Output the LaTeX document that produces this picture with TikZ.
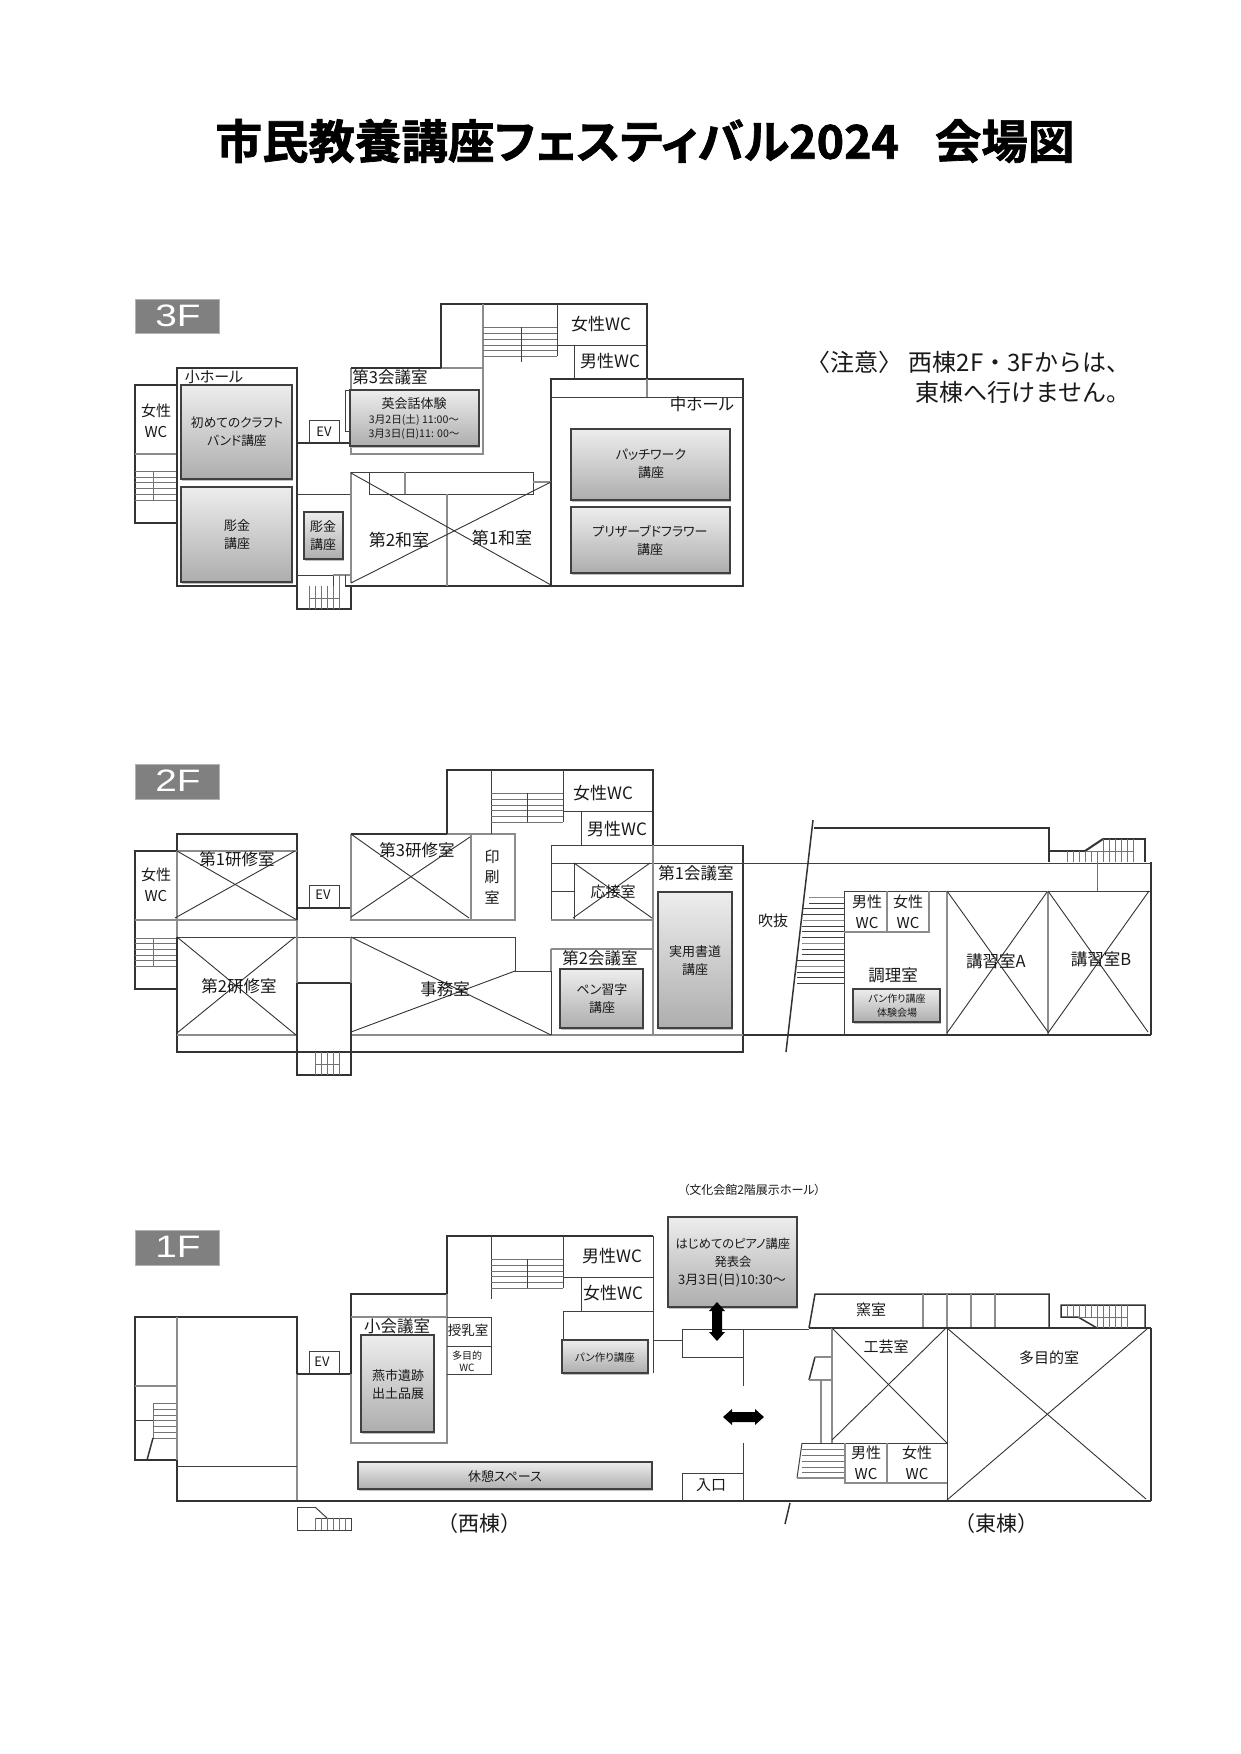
\documentclass[tikz,border=0pt]{standalone}
\usepackage{fontspec}
\setmainfont[RawFeature=+palt]{Noto Sans CJK JP}
\newfontfamily\ttlfont[RawFeature=+palt,FakeBold=1.5]{Noto Sans CJK JP Bold}
\newfontfamily\plainjp{Noto Sans CJK JP}
\newfontfamily\floorfont[FakeStretch=1.25]{Liberation Sans}
\newcommand\fs[2]{\fontsize{#1}{#2}\selectfont}
\tikzset{
  wall/.style={draw=black!80,line width=1.5},
  thin/.style={draw=black!75,line width=1},
  gl/.style={draw=black!45,line width=1.3},
  crossline/.style={draw=black!80,line width=.9},
  stairg/.style={draw=black!55,line width=1},
  floorbox/.style={fill=black!50,draw=black!30,line width=.6},
  floorlab/.style={text=white,font=\floorfont\fs{31}{31}},
  tx/.style={inner sep=0pt,outer sep=0pt,align=center,text=black!90},
  t10/.style={tx,font=\fs{10}{14}},
  t11/.style={tx,font=\fs{12.7}{18}},
  t12/.style={tx,font=\fs{13}{18}},
  t13/.style={tx,font=\fs{13}{18}},
  t15/.style={tx,font=\fs{15}{21}},
  t16/.style={tx,font=\fs{16.5}{21}},
  t17/.style={tx,font=\fs{17}{21}},
  t21/.style={tx,font=\plainjp\fs{21}{21}},
  tnote/.style={tx,font=\plainjp\fs{24}{24}},
  gboxs/.style={draw=black!75,line width=1.1,shade,top color=black!7,bottom color=black!32,shading angle=0},
  gshadow/.style={fill=black!25,draw=none},
}
\newcommand\gbox[4]{%
  \fill[gshadow] (#1+1,#2+1.5) rectangle (#3+1,#4+1.5);
  \path[gboxs] (#1,#2) rectangle (#3,#4);
}
\begin{document}
\begin{tikzpicture}[x=1pt,y=-1pt]
\useasboundingbox (0,0) rectangle (1240,1754);
\fill[white] (0,0) rectangle (1240,1754);

% title
\node[tx,anchor=center,text=black] (title) at (645,141) {\ttlfont\fs{46.5}{50}市民教養講座フェスティバル2024\hspace{36pt}会場図};

% note
\node[tnote,anchor=west] (note1) at (806,362) {〈注意〉\hspace{7pt}西棟2F・3Fからは、};
\node[tnote,anchor=west] (note2) at (915,392) {東棟へ行けません。};

% ------------------------- 3F -------------------------
\path[floorbox] (135,299) rectangle (219,333);
\node[floorlab] (f3) at (178,316) {3F};
% left block
\draw[wall] (177,385)--(135,385)--(135,523)--(177,523);
\draw[gl] (135,454)--(177,454);
\foreach \y in {471,477,482,488,494,500} \draw[stairg] (135,\y)--(177,\y);
\draw[stairg] (153,471)--(153,500);
% small hall
\draw[wall] (177,368) rectangle (297,586);
% EV + corridor
\draw[wall] (297,443)--(350,443);
\draw[thin] (309,443)--(309,420)--(339,420)--(339,443);
\draw[thin] (297,494)--(351,494);
% lower stairs
\draw[thin] (297,575)--(333,575)--(333,586);
\draw[wall] (297,586)--(297,609)--(351,609)--(351,586);
\draw[gl] (333,575)--(351,575);
\draw[thin] (345,586)--(345,575);
\foreach \x in {309,315,321,327,333,339} \draw[stairg] (\x,586)--(\x,609);
\draw[stairg] (339,575)--(339,586);
\draw[stairg] (309,598)--(339,598);
\draw[wall] (345,586)--(743,586);
% conference 3
\draw[gl] (351,368)--(351,454)--(483,454)--(483,368);
\draw[wall] (351,368)--(441,368);
\draw[gl] (441,368)--(483,368);
\draw[wall] (441,368)--(441,304)--(647,304)--(647,379);
\draw[gl] (483,304)--(483,368);
\draw[thin] (345,390) rectangle (351,431);
% upper stairs
\foreach \y in {327,333,339,345,350,356} \draw[stairg] (483,\y)--(557,\y);
\draw[thin] (521,327)--(521,362);
\draw[thin] (557,304)--(557,356);
\draw[thin] (557,345)--(647,345);
\draw[thin] (574,345)--(574,379);
% middle hall
\draw[wall] (551,379) rectangle (743,586);
\draw[thin] (551,397)--(743,397);
\draw[gl] (647,379)--(647,397);
% tatami rooms
\draw[gl] (351,472)--(351,583);
\draw[thin] (351,472)--(533,472)--(533,494)--(369,494)--(369,472);
\draw[gl] (405,472)--(405,494);
\draw[gl] (533,482)--(551,482);
\draw[gl] (447,494)--(447,586);
\draw[crossline] (351,473)--(551,585);
\draw[crossline] (351,583)--(551,482);
% boxes
\gbox{181}{385}{292}{479}
\gbox{181}{487}{292}{582}
\gbox{304}{512}{343}{559}
\gbox{350}{390}{479}{446}
\gbox{571}{429}{730}{500}
\gbox{571}{507}{730}{573}
% labels
\node[t15] (a1) at (214,377) {小ホール};
\node[t15] (a2) at (156,421) {女性\\WC};
\node[t11] (a3) at (237,432) {初めてのクラフト\\バンド講座};
\node[t12] (a4) at (237,535) {彫金\\講座};
\node[t12] (a5) at (323,536) {彫金\\講座};
\node[t13] (a6) at (324,432) {EV};
\node[t16] (a7) at (390,377) {第3会議室};
\node[tx,font=\fs{13}{13}] (a8) at (414,404) {英会話体験};
\node[tx,font=\fs{10.6}{14}] (a9) at (414,427) {3月2日(土) 11:00〜\\3月3日(日)11: 00〜};
\node[t17] (a10) at (399,540) {第2和室};
\node[t17] (a11) at (502,538) {第1和室};
\node[t17] (a12) at (601,324) {女性WC};
\node[t17] (a13) at (610,361) {男性WC};
\node[t16] (a14) at (702,404) {中ホール};
\node[t12] (a15) at (651,464) {パッチワーク\\講座};
\node[t12] (a16) at (650,540) {プリザーブドフラワー\\講座};

% ------------------------- 2F -------------------------
\path[floorbox] (135,764) rectangle (219,799);
\node[floorlab] (f2) at (178,781) {2F};
\draw[wall] (177,851)--(135,851)--(135,989)--(177,989);
\foreach \y in {938,943,949,955,960,966} \draw[stairg] (135,\y)--(177,\y);
\draw[stairg] (153,938)--(153,966);
\draw[gl] (135,920)--(297,920);
\draw[thin] (177,937)--(351,937);
\draw[wall] (177,851)--(177,834)--(297,834)--(297,920);
\draw[gl] (177,851)--(297,851);
\draw[gl] (177,851)--(177,937);
\draw[wall] (177,937)--(177,1052)--(743,1052)--(743,845);
\draw[gl] (177,1035)--(297,1035);
\draw[gl] (351,1035)--(1151,1035);
\draw[wall] (297,983)--(297,1075)--(351,1075)--(351,983)--cycle;
\draw[gl] (297,920)--(297,983);
\draw[gl] (351,937)--(351,983);
\draw[crossline] (177,851)--(297,920);
\draw[crossline] (175,918)--(295,851);
\draw[crossline] (177,937)--(296,1035);
\draw[crossline] (295,937)--(177,1033);
\draw[wall] (297,908)--(351,908);
\draw[thin] (309,908)--(309,885)--(339,885)--(339,908);
\foreach \x in {315,321,327,333,339} \draw[stairg] (\x,1052)--(\x,1075);
\draw[stairg] (315,1064)--(339,1064);
% research 3 / print
\draw[gl] (351,834)--(351,920)--(515,920)--(515,834)--(447,834);
\draw[wall] (351,834)--(447,834);
\draw[gl] (471,834)--(471,920);
\draw[crossline] (351,834)--(469,918);
\draw[crossline] (470,837)--(351,917);
% upper
\draw[wall] (447,834)--(447,770)--(653,770)--(653,845);
\draw[thin] (491,770)--(491,834);
\foreach \y in {793,799,805,810,816,822} \draw[stairg] (491,\y)--(563,\y);
\draw[thin] (527,793)--(527,822);
\draw[thin] (563,770)--(563,822);
\draw[thin] (563,811)--(653,811);
\draw[thin] (581,811)--(581,845);
\draw[thin] (551,845)--(743,845);
\draw[thin] (551,845)--(551,920);
\draw[thin] (551,863)--(1151,863);
\draw[thin] (574,863)--(574,920);
\draw[thin] (551,891)--(574,891);
\draw[gl] (551,920)--(653,920);
\draw[gl] (653,845)--(653,1035);
\draw[crossline] (574,863)--(652,918);
\draw[crossline] (650,863)--(573,918);
% office
\draw[thin] (351,937)--(515,937)--(515,971)--(551,971);
\draw[gl] (551,949)--(653,949);
\draw[thin] (551,971)--(551,1035);
\draw[gl] (551,949)--(551,971);
\draw[crossline] (351,937)--(551,1035);
\draw[crossline] (351,1032)--(515,971);
% east
\draw[wall] (813,820)--(786,1052);
\draw[wall] (814,828)--(1049,828)--(1049,862);
\draw[wall] (1151,862)--(1151,1035);
\draw[wall] (1049,851)--(1085,851);
\draw[draw=black!80,line width=2] (1085,851)--(1103,839);
\draw[wall] (1103,839)--(1145,839)--(1145,862);
\draw[stairg] (1085,851)--(1133,851);
\foreach \x in {1067,1073,1079,1085,1091,1097} \draw[stairg] (\x,851)--(\x,862);
\foreach \x in {1103,1109,1115,1121,1127,1133} \draw[stairg] (\x,839)--(\x,862);
\draw[stairg] (1097,862)--(1097,891);
\draw[thin] (844,891)--(1151,891);
\draw[thin] (844,891)--(844,1035);
\draw[gl] (929,891)--(929,932)--(844,932);
\draw[gl] (887,891)--(887,932);
\draw[gl] (947,891)--(947,1035);
\draw[gl] (1048,891)--(1048,1035);
\draw[wall] (743,1035)--(1151,1035);
\draw[crossline] (947,891)--(1048,1032);
\draw[crossline] (1047,892)--(947,1033);
\draw[crossline] (1048,891)--(1148,1032);
\draw[crossline] (1149,891)--(1048,1033);
\foreach \y/\l/\c in {897/809/black!45,903/809/black!75,908/803/black!75,914/803/black!75,920/803/black!45,926/802/black!75,931/802/black!75,937/802/black!75,943/802/black!45,949/802/black!75,954/802/black!75,960/797/black!75,966/797/black!45,972/797/black!75,977/797/black!75,983/797/black!75}
  \draw[draw=\c,line width=1] (\l,\y)--(844,\y);
% boxes
\gbox{560}{969}{643}{1028}
\gbox{658}{892}{732}{1028}
\gbox{853}{989}{940}{1022}
% labels
\node[t15] (b1) at (156,885) {女性\\WC};
\node[t16] (b2) at (237,859) {第1研修室};
\node[t16] (b3) at (239,986) {第2研修室};
\node[t16] (b4) at (417,850) {第3研修室};
\node[t16] (b5) at (445,989) {事務室};
\node[tx,font=\fs{15}{20.5}] (b6) at (492,877) {印\\刷\\室};
\node[t13] (b7) at (323,895) {EV};
\node[t17] (b8) at (603,793) {女性WC};
\node[t17] (b9) at (617,829) {男性WC};
\node[t16] (b10) at (696,873) {第1会議室};
\node[t16] (b11) at (600,958) {第2会議室};
\node[t15] (b12) at (613,892) {応接室};
\node[t12] (b13) at (602,999) {ペン習字\\講座};
\node[t12] (b14) at (695,961) {実用書道\\講座};
\node[t15] (b15) at (773,921) {吹抜};
\node[t15] (b16) at (867,912) {男性\\WC};
\node[t15] (b17) at (908,912) {女性\\WC};
\node[t16] (b18) at (893,975) {調理室};
\node[t10] (b19) at (897,1006) {パン作り講座\\体験会場};
\node[t16] (b20) at (996,961) {講習室A};
\node[t16] (b21) at (1101,959) {講習室B};

% ------------------------- 1F -------------------------
\path[floorbox] (135,1230) rectangle (219,1265);
\node[floorlab] (f1) at (178,1247) {1F};
\draw[wall] (177,1317)--(135,1317)--(135,1460)--(177,1460);
\draw[gl] (135,1386)--(177,1386);
\draw[thin] (135,1420)--(153,1420);
\foreach \y in {1403,1409,1415,1420,1426,1432,1438} \draw[stairg] (153,\y)--(177,\y);
\draw[stairg] (153,1403)--(153,1438);
\draw[wall] (153,1438)--(147,1460);
\draw[wall] (177,1317)--(297,1317)--(297,1374);
\draw[gl] (177,1317)--(177,1460);
\draw[gl] (297,1374)--(297,1501);
\draw[wall] (177,1460)--(177,1501)--(1151,1501);
\draw[thin] (177,1466)--(297,1466);
\draw[wall] (297,1374)--(351,1374);
\draw[thin] (309,1374)--(309,1351)--(339,1351)--(339,1374);
% small conference
\draw[wall] (351,1374)--(351,1294)--(447,1294)--(447,1236)--(653,1236);
\draw[gl] (351,1374)--(351,1443)--(447,1443)--(447,1294);
\draw[gl] (351,1317)--(447,1317);
\draw[thin] (447,1317)--(491,1317)--(491,1374)--(447,1374);
\draw[thin] (447,1346)--(491,1346);
% upper
\draw[thin] (491,1236)--(491,1299);
\foreach \y in {1259,1265,1271,1276,1282,1288} \draw[stairg] (491,\y)--(563,\y);
\draw[thin] (527,1259)--(527,1288);
\draw[thin] (563,1236)--(563,1288);
\draw[thin] (563,1277)--(653,1277);
\draw[thin] (581,1277)--(581,1311);
\draw[thin] (563,1311)--(653,1311);
\draw[thin] (563,1311)--(563,1340);
\draw[thin] (653,1236)--(653,1373);
\draw[thin] (653,1340)--(682,1340);
% lobby
\draw[thin] (682,1329)--(682,1357)--(743,1357);
\draw[thin] (682,1329)--(809,1329);
\draw[thin] (743,1329)--(743,1386);
\draw[thin] (743,1443)--(743,1501);
\draw[thin] (682,1501)--(682,1473)--(743,1473);
% east
\draw[wall] (809,1328)--(815,1294)--(1049,1294)--(1049,1328);
\foreach \x in {923,947,971,995} \draw[gl] (\x,1294)--(\x,1328);
\draw[wall] (809,1328)--(1151,1328);
\draw[wall] (1151,1328)--(1151,1501);
\draw[wall] (1097,1328)--(1078,1317)--(1061,1317)--(1061,1305)--(1145,1305)--(1145,1328);
\draw[stairg] (1078,1317)--(1127,1317);
\foreach \x in {1067,1073,1079,1085,1091} \draw[stairg] (\x,1305)--(\x,1317);
\foreach \x in {1097,1103,1109,1115,1121,1127} \draw[stairg] (\x,1305)--(\x,1328);
\draw[thin] (947,1328)--(947,1501);
\draw[gl] (832,1328)--(832,1443);
\draw[crossline] (947,1328)--(1146,1499);
\draw[crossline] (1147,1329)--(947,1500);
\draw[crossline] (832,1328)--(947,1443);
\draw[crossline] (945,1329)--(832,1440);
\draw[wall] (809,1380)--(815,1357);
\draw[gl] (815,1357)--(832,1357);
\draw[gl] (809,1380)--(832,1380);
\draw[gl] (821,1380)--(821,1443);
\draw[thin] (802,1443)--(947,1443);
\draw[thin] (802,1443)--(797,1478);
\draw[gl] (797,1478)--(845,1478);
\foreach \y in {1449,1455,1461,1467,1472} \draw[stairg] (802,\y)--(845,\y);
\draw[gl] (845,1443)--(845,1483)--(947,1483);
\draw[gl] (887,1443)--(887,1483);
\draw[wall] (790,1503)--(785,1524);
% bottom stairs
\draw[thin] (315,1507)--(297,1507)--(297,1530)--(351,1530)--(351,1518)--(315,1518);
\draw[thin] (315,1507)--(327,1518);
\foreach \x in {315,321,327,333,339,345} \draw[stairg] (\x,1518)--(\x,1530);
% boxes
\gbox{361}{1335}{434}{1432}
\gbox{562}{1340}{648}{1373}
\gbox{358}{1462}{652}{1489}
\gbox{668}{1217}{797}{1307}
% arrows
\fill[black] (717,1302)--(725,1311)--(722,1311)--(722,1332)--(725,1332)--(717,1341)--(709,1332)--(712,1332)--(712,1311)--(709,1311)--cycle;
\fill[black] (723,1417)--(732,1409)--(732,1412)--(755,1412)--(755,1409)--(764,1417)--(755,1425)--(755,1422)--(732,1422)--(732,1425)--cycle;
% labels
\node[t13] (c1) at (322,1362) {EV};
\node[t16] (c2) at (397,1326) {小会議室};
\node[t13] (c3) at (398,1385) {燕市遺跡\\出土品展};
\node[tx,font=\fs{13.5}{14}] (c4) at (468,1330) {授乳室};
\node[tx,font=\fs{10}{12}] (c5) at (467,1361) {多目的\\WC};
\node[t17] (c6) at (612,1256) {男性WC};
\node[t17] (c7) at (613,1293) {女性WC};
\node[tx,font=\fs{10.5}{11}] (c8) at (605,1357) {パン作り講座};
\node[t13] (c9) at (505,1476) {休憩スペース};
\node[t15] (c10) at (711,1485) {入口};
\node[tx,font=\fs{12}{12}] (c11) at (752,1190) {（文化会館2階展示ホール）};
\node[tx,font=\fs{12.3}{18}] (c12) at (733,1253) {はじめてのピアノ講座\\発表会};
\node[tx,font=\fs{13}{13}] (c13) at (732,1280) {3月3日(日)10:30〜};
\node[t15] (c14) at (871,1310) {窯室};
\node[t15] (c15) at (886,1347) {工芸室};
\node[t15] (c16) at (1049,1358) {多目的室};
\node[t15] (c17) at (866,1463) {男性\\WC};
\node[t15] (c18) at (917,1463) {女性\\WC};
\node[t21] (c19) at (479,1523) {（西棟）};
\node[t21] (c20) at (996,1523) {（東棟）};
\end{tikzpicture}
\end{document}
